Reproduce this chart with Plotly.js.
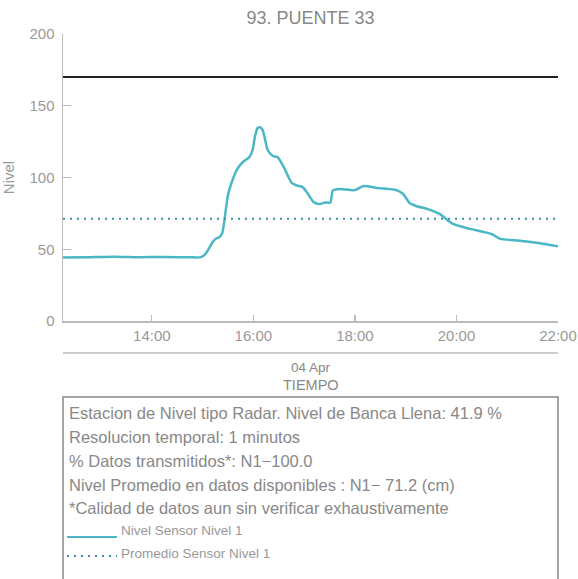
<!DOCTYPE html>
<html>
<head>
<meta charset="utf-8">
<script src="https://cdn.plot.ly/plotly-3.0.1.min.js"></script>
<style>html,body{margin:0;padding:0;background:#fff;}#chart{width:578px;height:579px;}</style>
</head>
<body>
<div id="chart"></div>
<script>
const day = "2023-04-04 ";
const times = ["12:15","12:45","13:15","13:45","14:15","14:45","14:58","15:03","15:08","15:12","15:16","15:20","15:23","15:25","15:28","15:30","15:34","15:40","15:48","15:55","15:59","16:02","16:05","16:08","16:11","16:14","16:17","16:23","16:29","16:37","16:45","16:51","16:58","17:04","17:11","17:18","17:25","17:31","17:34","17:42","18:00","18:10","18:28","18:49","18:57","19:05","19:13","19:26","19:40","19:56","20:16","20:41","20:52","21:15","21:39","22:00"];
const nivel = [44.3,44.5,44.8,44.5,44.6,44.4,44.5,46.5,51,55,57.5,58.5,61,67,80,88,96,105,111,114,119,129,134.5,135,133,126,119,115,114,106,96.5,94.5,93.5,89,83,81.5,82.6,82.6,91,92,91.2,94,92.6,91.2,88.5,82,80,78,74.6,67.6,64.2,60.7,57.2,56,54.2,52];
const promedio = 71.2;
const bancaLlena = 170;
const xStart = "12:15", xEnd = "22:00";
const tickHours = ["14:00","16:00","18:00","20:00","22:00"];
const yTicks = [0,50,100,150,200];
const titleText = "93. PUENTE 33";
const infoLines = [
  "Estacion de Nivel tipo Radar. Nivel de Banca Llena: 41.9 %",
  "Resolucion temporal: 1 minutos",
  "% Datos transmitidos*: N1\u2212100.0",
  "Nivel Promedio en datos disponibles : N1\u2212 71.2 (cm)",
  "*Calidad de datos aun sin verificar exhaustivamente"
];
const legendNames = ["Nivel Sensor Nivel 1","Promedio Sensor Nivel 1"];

const x = times.map(t => day + t);
const xr = [day + xStart, day + xEnd];
const grey = "#999";
const lineColor = "#4bb7c5";
const dotColor = "#3a8ea8";
const FF = "Liberation Sans, Arial, sans-serif";

// plot area: x 63..558, y 34..321
const PT = 34, PB = 321, PH = PB - PT;
const py = p => (PB - p) / PH;

const traces = [
  {x: x, y: nivel, type: "scatter", mode: "lines", line: {color: lineColor, width: 2.5, shape: "spline", smoothing: 0.6}, name: legendNames[0], showlegend: false, hoverinfo: "skip"},
  {x: xr, y: [promedio, promedio], type: "scatter", mode: "lines", line: {color: dotColor, width: 2, dash: "2px,5px"}, name: legendNames[1], showlegend: false, hoverinfo: "skip"},
  {x: xr, y: [bancaLlena, bancaLlena], type: "scatter", mode: "lines", line: {color: "#222", width: 2}, showlegend: false, hoverinfo: "skip"}
];

const shapes = [
  {type: "line", xref: "paper", yref: "paper", x0: 0, x1: 1, y0: py(353), y1: py(353), line: {color: "#bbb", width: 1.5}},
  {type: "rect", xref: "paper", yref: "paper", x0: 0, x1: 1, y0: py(397), y1: py(620), line: {color: "#888", width: 1.5}},
  {type: "line", xref: "paper", yref: "paper", x0: (67-63)/495, x1: (117-63)/495, y0: py(537), y1: py(537), line: {color: lineColor, width: 2}},
  {type: "line", xref: "paper", yref: "paper", x0: (67-63)/495, x1: (117-63)/495, y0: py(556), y1: py(556), line: {color: dotColor, width: 2, dash: "2px,5px"}}
];

const infoY = [413, 437, 461, 485, 508];
const annotations = infoLines.map((t, i) => ({
  text: t, xref: "paper", yref: "paper", x: (67-63)/495, y: py(infoY[i]), xanchor: "left", yanchor: "middle", showarrow: false,
  font: {family: FF, size: 16.5, color: "#888"}
}));
[530, 553].forEach((yy, i) => annotations.push({
  text: legendNames[i], xref: "paper", yref: "paper", x: (119-63)/495, y: py(yy), xanchor: "left", yanchor: "middle", showarrow: false,
  font: {family: FF, size: 13.5, color: "#999"}
}));
annotations.push({text: "04 Apr", xref: "paper", yref: "paper", x: 0.5, y: py(367), xanchor: "center", yanchor: "middle", showarrow: false,
  font: {family: FF, size: 13.5, color: "#888"}});
annotations.push({text: "TIEMPO", xref: "paper", yref: "paper", x: 0.5, y: py(385), xanchor: "center", yanchor: "middle", showarrow: false,
  font: {family: FF, size: 14.5, color: "#888"}});

const layout = {
  width: 578, height: 579,
  margin: {l: 63, r: 20, t: PT, b: 579 - PB, pad: 0},
  paper_bgcolor: "#fff", plot_bgcolor: "#fff",
  font: {family: FF, color: grey, size: 15},
  title: {text: titleText, x: 0.5, xref: "paper", xanchor: "center", y: 1 - 18/579, yanchor: "middle", font: {size: 18, color: "#888"}},
  xaxis: {
    type: "date", range: xr, tickvals: tickHours.map(t => day + t), ticktext: tickHours,
    ticks: "inside", ticklen: 6, tickcolor: "#bbb", tickwidth: 1.2,
    showline: true, linecolor: "#bbb", linewidth: 1.5, showgrid: false, zeroline: false,
    tickfont: {size: 15, color: "#999"}, fixedrange: true
  },
  yaxis: {
    range: [0, 200], tickvals: yTicks, ticks: "inside", ticklen: 8, tickcolor: "#bbb", tickwidth: 1.2,
    showline: true, linecolor: "#bbb", linewidth: 1.5, showgrid: false, zeroline: false,
    tickfont: {size: 15, color: "#999"}, ticklabelstandoff: 4,
    title: {text: "Nivel", font: {size: 15, color: "#999"}, standoff: 12}, fixedrange: true
  },
  shapes: shapes, annotations: annotations, showlegend: false
};

Plotly.newPlot("chart", traces, layout, {displayModeBar: false, staticPlot: true});
</script>
</body>
</html>
